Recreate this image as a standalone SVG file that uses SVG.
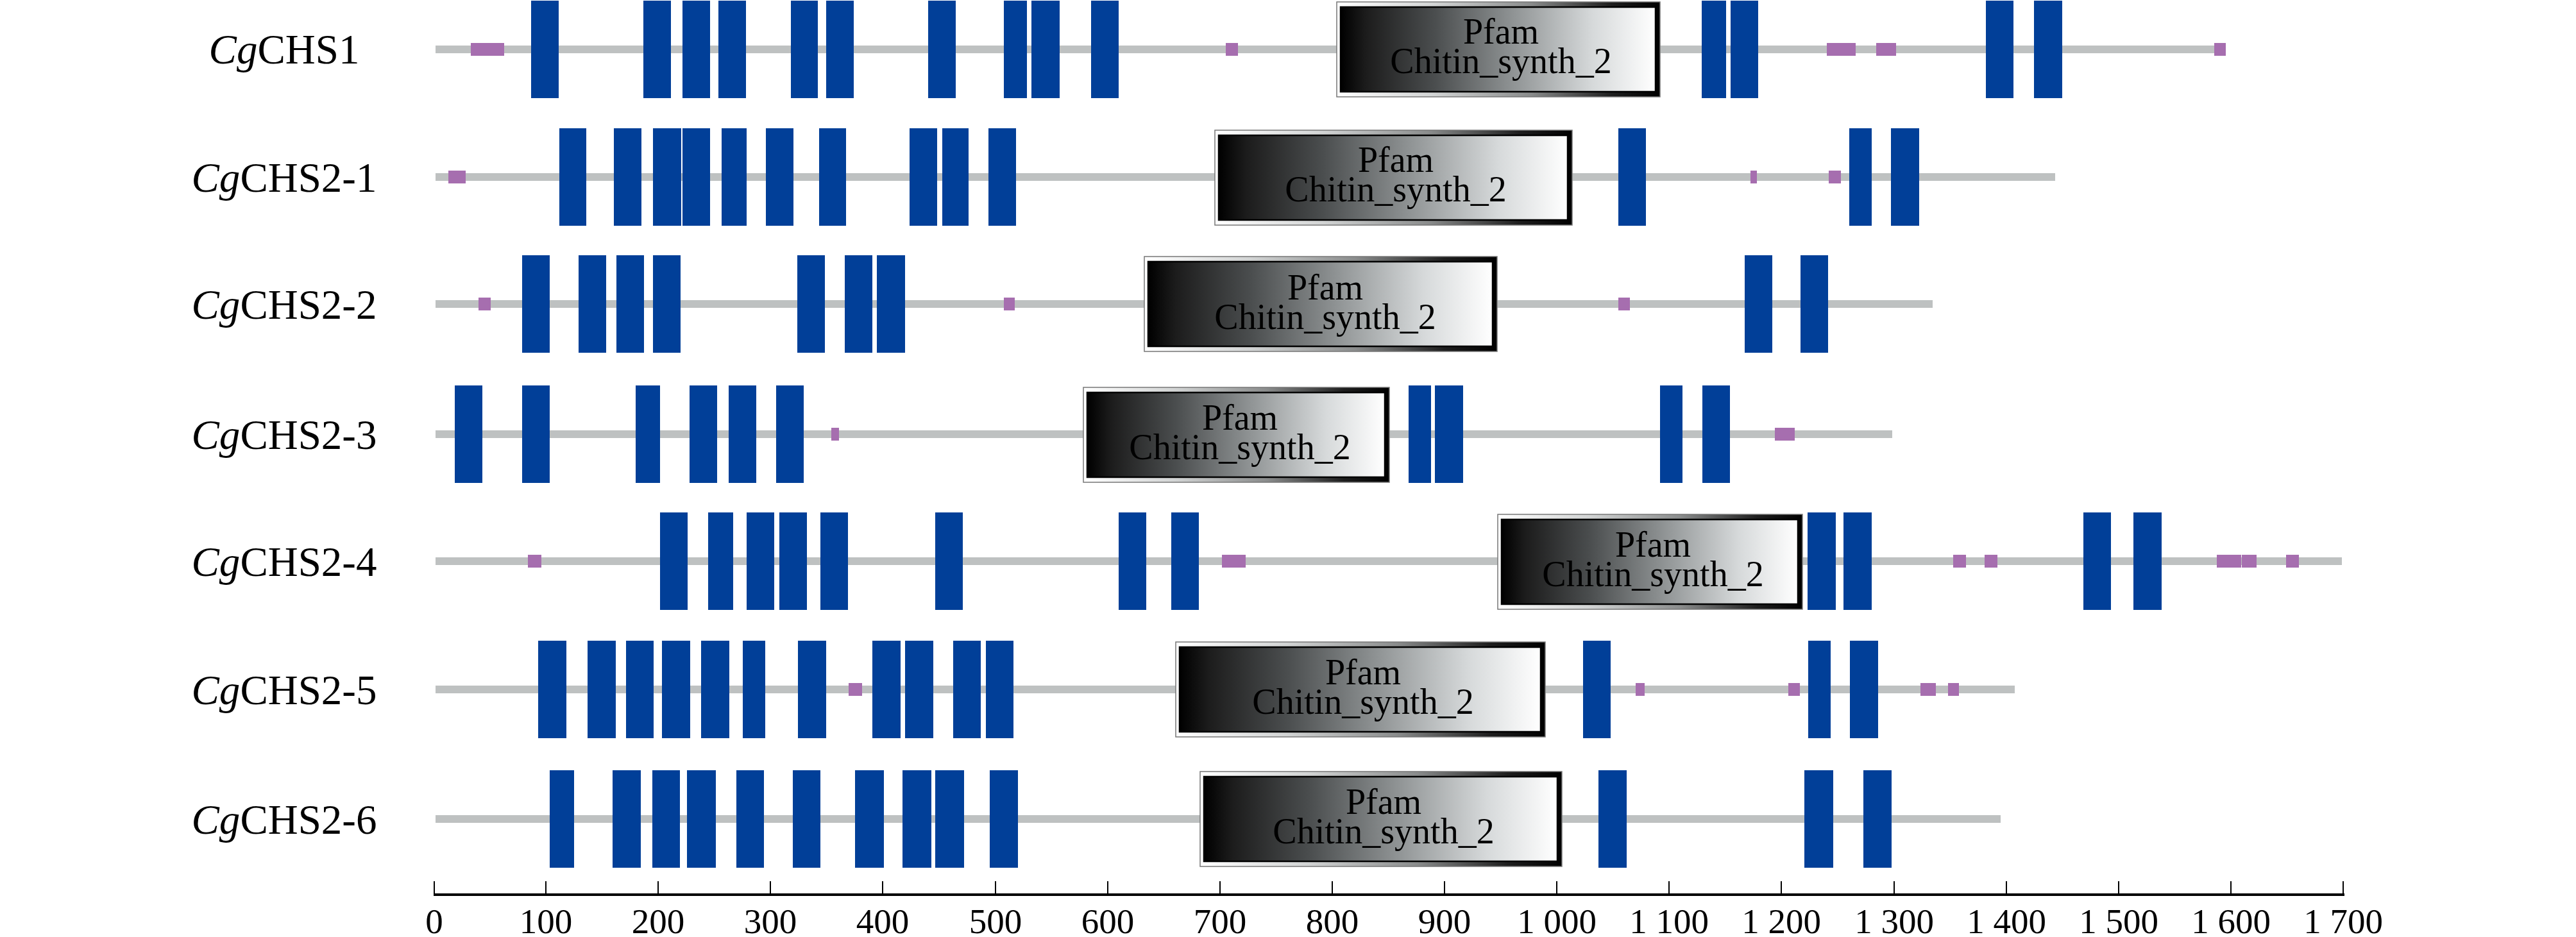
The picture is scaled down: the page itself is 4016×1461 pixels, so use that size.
<svg xmlns="http://www.w3.org/2000/svg" width="4016" height="1461" viewBox="0 0 4016 1461">
<defs>
<linearGradient id="frameG" x1="0" y1="0" x2="1" y2="0">
<stop offset="0" stop-color="#ffffff"/><stop offset="0.3" stop-color="#d2d4d4"/><stop offset="0.6" stop-color="#8a8c8c"/><stop offset="0.85" stop-color="#1e1e1e"/><stop offset="1" stop-color="#000"/>
</linearGradient>
<linearGradient id="innerG" x1="0" y1="0" x2="1" y2="0">
<stop offset="0" stop-color="#000"/><stop offset="0.08" stop-color="#1c1c1c"/><stop offset="0.3" stop-color="#4b4e4f"/><stop offset="0.55" stop-color="#909495"/><stop offset="0.8" stop-color="#d6d9da"/><stop offset="1" stop-color="#ffffff"/>
</linearGradient>
</defs>
<style>
.bb{fill:#bec1c1}
.ex{fill:#013f98}
.mk{fill:#a66eaf}
.fo{fill:url(#frameG);stroke:#777;stroke-width:1.5}
.fi{fill:url(#innerG);stroke:#000;stroke-width:2.5}
.lbl{font-family:"Liberation Serif","Times New Roman",serif;font-size:65px;fill:#000;text-anchor:middle}
.lbl .it{font-style:italic}
.pf{font-family:"Liberation Serif","Times New Roman",serif;font-size:56px;fill:#000;text-anchor:middle}
.tk{font-family:"Liberation Serif","Times New Roman",serif;font-size:55px;fill:#000;text-anchor:middle}
.tl{stroke:#000;stroke-width:2}
</style>
<rect width="4016" height="1461" fill="#fff"/>

<g id="backbones">
<rect class="bb" x="679" y="71" width="2791" height="12"/>
<rect class="bb" x="679" y="270" width="2525" height="12"/>
<rect class="bb" x="679" y="468" width="2334" height="12"/>
<rect class="bb" x="679" y="671" width="2271" height="12"/>
<rect class="bb" x="679" y="869" width="2972" height="12"/>
<rect class="bb" x="679" y="1069" width="2462" height="12"/>
<rect class="bb" x="679" y="1271" width="2440" height="12"/>
</g>

<g id="row-CgCHS1">
<text class="lbl" x="443" y="99"><tspan class="it">Cg</tspan>CHS1</text>
<g transform="translate(0,1)">
<rect class="ex" x="828" width="43" height="152"/><rect class="ex" x="1003" width="43" height="152"/><rect class="ex" x="1064" width="43" height="152"/><rect class="ex" x="1120" width="43" height="152"/><rect class="ex" x="1233" width="42" height="152"/><rect class="ex" x="1288" width="43" height="152"/><rect class="ex" x="1447" width="43" height="152"/><rect class="ex" x="1565" width="36" height="152"/><rect class="ex" x="1608" width="44" height="152"/><rect class="ex" x="1701" width="43" height="152"/><rect class="ex" x="2653" width="38" height="152"/><rect class="ex" x="2698" width="43" height="152"/><rect class="ex" x="3096" width="43" height="152"/><rect class="ex" x="3171" width="44" height="152"/>
</g>
<g transform="translate(0,67)">
<rect class="mk" x="734" width="52" height="20"/><rect class="mk" x="1911" width="19" height="20"/><rect class="mk" x="2848" width="45" height="20"/><rect class="mk" x="2925" width="31" height="20"/><rect class="mk" x="3452" width="18" height="20"/>
</g>
<g transform="translate(2084,3)">
<rect class="fo" x="0" y="0" width="504" height="148"/><rect class="fi" x="6" y="8" width="491" height="132"/>
<text class="pf" x="256" y="65">Pfam</text><text class="pf" x="256" y="111">Chitin_synth_2</text>
</g>
</g>

<g id="row-CgCHS2-1">
<text class="lbl" x="443" y="299"><tspan class="it">Cg</tspan>CHS2-1</text>
<g transform="translate(0,200)">
<rect class="ex" x="872" width="42" height="152"/><rect class="ex" x="957" width="43" height="152"/><rect class="ex" x="1018" width="44" height="152"/><rect class="ex" x="1064" width="43" height="152"/><rect class="ex" x="1125" width="39" height="152"/><rect class="ex" x="1194" width="43" height="152"/><rect class="ex" x="1277" width="42" height="152"/><rect class="ex" x="1418" width="43" height="152"/><rect class="ex" x="1469" width="41" height="152"/><rect class="ex" x="1541" width="43" height="152"/><rect class="ex" x="2523" width="43" height="152"/><rect class="ex" x="2883" width="35" height="152"/><rect class="ex" x="2948" width="44" height="152"/>
</g>
<g transform="translate(0,266)">
<rect class="mk" x="699" width="27" height="20"/><rect class="mk" x="2729" width="10" height="20"/><rect class="mk" x="2851" width="19" height="20"/>
</g>
<g transform="translate(1894,203)">
<rect class="fo" x="0" y="0" width="557" height="148"/><rect class="fi" x="6" y="8" width="544" height="132"/>
<text class="pf" x="282" y="65">Pfam</text><text class="pf" x="282" y="111">Chitin_synth_2</text>
</g>
</g>

<g id="row-CgCHS2-2">
<text class="lbl" x="443" y="497"><tspan class="it">Cg</tspan>CHS2-2</text>
<g transform="translate(0,398)">
<rect class="ex" x="814" width="43" height="152"/><rect class="ex" x="902" width="43" height="152"/><rect class="ex" x="961" width="43" height="152"/><rect class="ex" x="1018" width="43" height="152"/><rect class="ex" x="1243" width="43" height="152"/><rect class="ex" x="1317" width="43" height="152"/><rect class="ex" x="1367" width="44" height="152"/><rect class="ex" x="2720" width="43" height="152"/><rect class="ex" x="2807" width="43" height="152"/>
</g>
<g transform="translate(0,464)">
<rect class="mk" x="746" width="19" height="20"/><rect class="mk" x="1565" width="17" height="20"/><rect class="mk" x="2523" width="18" height="20"/>
</g>
<g transform="translate(1784,400)">
<rect class="fo" x="0" y="0" width="550" height="148"/><rect class="fi" x="6" y="8" width="537" height="132"/>
<text class="pf" x="282" y="67">Pfam</text><text class="pf" x="282" y="113">Chitin_synth_2</text>
</g>
</g>

<g id="row-CgCHS2-3">
<text class="lbl" x="443" y="700"><tspan class="it">Cg</tspan>CHS2-3</text>
<g transform="translate(0,601)">
<rect class="ex" x="709" width="43" height="152"/><rect class="ex" x="814" width="43" height="152"/><rect class="ex" x="991" width="38" height="152"/><rect class="ex" x="1075" width="43" height="152"/><rect class="ex" x="1136" width="43" height="152"/><rect class="ex" x="1210" width="43" height="152"/><rect class="ex" x="2196" width="35" height="152"/><rect class="ex" x="2237" width="44" height="152"/><rect class="ex" x="2588" width="35" height="152"/><rect class="ex" x="2654" width="43" height="152"/>
</g>
<g transform="translate(0,667)">
<rect class="mk" x="1296" width="12" height="20"/><rect class="mk" x="2767" width="31" height="20"/>
</g>
<g transform="translate(1689,604)">
<rect class="fo" x="0" y="0" width="477" height="148"/><rect class="fi" x="6" y="8" width="464" height="132"/>
<text class="pf" x="244" y="66">Pfam</text><text class="pf" x="244" y="112">Chitin_synth_2</text>
</g>
</g>

<g id="row-CgCHS2-4">
<text class="lbl" x="443" y="898"><tspan class="it">Cg</tspan>CHS2-4</text>
<g transform="translate(0,799)">
<rect class="ex" x="1029" width="43" height="152"/><rect class="ex" x="1104" width="39" height="152"/><rect class="ex" x="1164" width="43" height="152"/><rect class="ex" x="1215" width="43" height="152"/><rect class="ex" x="1279" width="43" height="152"/><rect class="ex" x="1458" width="43" height="152"/><rect class="ex" x="1744" width="43" height="152"/><rect class="ex" x="1826" width="43" height="152"/><rect class="ex" x="2818" width="44" height="152"/><rect class="ex" x="2874" width="44" height="152"/><rect class="ex" x="3248" width="43" height="152"/><rect class="ex" x="3326" width="44" height="152"/>
</g>
<g transform="translate(0,865)">
<rect class="mk" x="823" width="21" height="20"/><rect class="mk" x="1905" width="37" height="20"/><rect class="mk" x="3045" width="20" height="20"/><rect class="mk" x="3094" width="20" height="20"/><rect class="mk" x="3456" width="38" height="20"/><rect class="mk" x="3495" width="23" height="20"/><rect class="mk" x="3564" width="20" height="20"/>
</g>
<g transform="translate(2335,802)">
<rect class="fo" x="0" y="0" width="475" height="148"/><rect class="fi" x="6" y="8" width="462" height="132"/>
<text class="pf" x="242" y="66">Pfam</text><text class="pf" x="242" y="112">Chitin_synth_2</text>
</g>
</g>

<g id="row-CgCHS2-5">
<text class="lbl" x="443" y="1098"><tspan class="it">Cg</tspan>CHS2-5</text>
<g transform="translate(0,999)">
<rect class="ex" x="839" width="44" height="152"/><rect class="ex" x="916" width="44" height="152"/><rect class="ex" x="976" width="43" height="152"/><rect class="ex" x="1032" width="44" height="152"/><rect class="ex" x="1093" width="44" height="152"/><rect class="ex" x="1158" width="35" height="152"/><rect class="ex" x="1244" width="44" height="152"/><rect class="ex" x="1360" width="44" height="152"/><rect class="ex" x="1411" width="44" height="152"/><rect class="ex" x="1486" width="43" height="152"/><rect class="ex" x="1537" width="43" height="152"/><rect class="ex" x="2468" width="43" height="152"/><rect class="ex" x="2819" width="35" height="152"/><rect class="ex" x="2884" width="44" height="152"/>
</g>
<g transform="translate(0,1065)">
<rect class="mk" x="1323" width="21" height="20"/><rect class="mk" x="2550" width="14" height="20"/><rect class="mk" x="2788" width="18" height="20"/><rect class="mk" x="2994" width="24" height="20"/><rect class="mk" x="3037" width="17" height="20"/>
</g>
<g transform="translate(1833,1001)">
<rect class="fo" x="0" y="0" width="576" height="148"/><rect class="fi" x="6" y="8" width="563" height="132"/>
<text class="pf" x="292" y="66">Pfam</text><text class="pf" x="292" y="112">Chitin_synth_2</text>
</g>
</g>

<g id="row-CgCHS2-6">
<text class="lbl" x="443" y="1300"><tspan class="it">Cg</tspan>CHS2-6</text>
<g transform="translate(0,1201)">
<rect class="ex" x="857" width="38" height="152"/><rect class="ex" x="955" width="44" height="152"/><rect class="ex" x="1017" width="43" height="152"/><rect class="ex" x="1071" width="45" height="152"/><rect class="ex" x="1148" width="43" height="152"/><rect class="ex" x="1236" width="43" height="152"/><rect class="ex" x="1333" width="45" height="152"/><rect class="ex" x="1407" width="45" height="152"/><rect class="ex" x="1458" width="45" height="152"/><rect class="ex" x="1543" width="44" height="152"/><rect class="ex" x="2492" width="44" height="152"/><rect class="ex" x="2813" width="45" height="152"/><rect class="ex" x="2905" width="44" height="152"/>
</g>
<g transform="translate(1871,1203)">
<rect class="fo" x="0" y="0" width="564" height="148"/><rect class="fi" x="6" y="8" width="551" height="132"/>
<text class="pf" x="286" y="66">Pfam</text><text class="pf" x="286" y="112">Chitin_synth_2</text>
</g>
</g>

<g id="axis">
<rect x="676" y="1393" width="2979" height="4" fill="#000"/>
<g class="tl">
<line x1="677" y1="1374" x2="677" y2="1395"/><line x1="851" y1="1374" x2="851" y2="1395"/><line x1="1026" y1="1374" x2="1026" y2="1395"/><line x1="1201" y1="1374" x2="1201" y2="1395"/><line x1="1376" y1="1374" x2="1376" y2="1395"/><line x1="1552" y1="1374" x2="1552" y2="1395"/><line x1="1727" y1="1374" x2="1727" y2="1395"/><line x1="1902" y1="1374" x2="1902" y2="1395"/><line x1="2077" y1="1374" x2="2077" y2="1395"/><line x1="2252" y1="1374" x2="2252" y2="1395"/><line x1="2427" y1="1374" x2="2427" y2="1395"/><line x1="2602" y1="1374" x2="2602" y2="1395"/><line x1="2777" y1="1374" x2="2777" y2="1395"/><line x1="2953" y1="1374" x2="2953" y2="1395"/><line x1="3128" y1="1374" x2="3128" y2="1395"/><line x1="3303" y1="1374" x2="3303" y2="1395"/><line x1="3478" y1="1374" x2="3478" y2="1395"/><line x1="3653" y1="1374" x2="3653" y2="1395"/>
</g>
<text class="tk" x="677" y="1455">0</text><text class="tk" x="851" y="1455">100</text><text class="tk" x="1026" y="1455">200</text><text class="tk" x="1201" y="1455">300</text><text class="tk" x="1376" y="1455">400</text><text class="tk" x="1552" y="1455">500</text><text class="tk" x="1727" y="1455">600</text><text class="tk" x="1902" y="1455">700</text><text class="tk" x="2077" y="1455">800</text><text class="tk" x="2252" y="1455">900</text><text class="tk" x="2427" y="1455">1 000</text><text class="tk" x="2602" y="1455">1 100</text><text class="tk" x="2777" y="1455">1 200</text><text class="tk" x="2953" y="1455">1 300</text><text class="tk" x="3128" y="1455">1 400</text><text class="tk" x="3303" y="1455">1 500</text><text class="tk" x="3478" y="1455">1 600</text><text class="tk" x="3653" y="1455">1 700</text>
</g>
</svg>
